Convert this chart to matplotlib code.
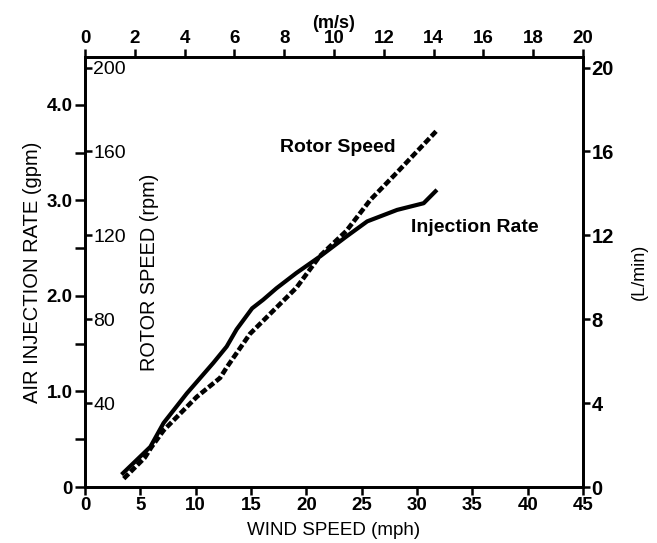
import matplotlib.pyplot as plt
import numpy as np

plt.rcParams['font.family'] = ['Liberation Sans', 'DejaVu Sans']

# Rotor speed (rpm) vs wind speed (mph) - dashed
rotor_mph = [3.5, 5.4, 6.0, 7.1, 8.6, 10.1, 12.2, 12.8, 14.9, 17.0, 19.1, 21.2, 23.6, 25.8, 28.2, 30.0, 31.8]
rotor_rpm = [4, 14, 19, 27, 35, 43, 52, 57, 73, 84, 95, 110, 122, 137, 150, 160, 170]

# Air injection rate (gpm) vs wind speed (mph) - solid
inj_mph = [3.3, 5.9, 7.1, 9.2, 11.6, 12.8, 13.7, 15.1, 16.1, 17.3, 19.1, 21.2, 23.6, 25.5, 28.2, 30.6, 31.8]
inj_gpm = [0.13, 0.42, 0.67, 0.98, 1.30, 1.47, 1.65, 1.87, 1.96, 2.08, 2.24, 2.41, 2.62, 2.78, 2.90, 2.97, 3.11]

mph_ticks = list(range(0, 50, 5))
ms_ticks = list(range(0, 22, 2))
gpm_ticks = [0, 1.0, 2.0, 3.0, 4.0]
gpm_labels = ['0', '1.0', '2.0', '3.0', '4.0']
rpm_ticks = [40, 80, 120, 160, 200]
lmin_ticks = [0, 4, 8, 12, 16, 20]

lw_spine = 1.8

fig = plt.figure(figsize=(6.57, 5.43), dpi=100)
ax = fig.add_axes([0.1294, 0.1031, 0.7580, 0.7919])

ax.plot(inj_mph, inj_gpm, color='black', lw=3.0, solid_capstyle='butt')
ax.set_xlim(0, 45)
ax.set_ylim(0, 4.5)
ax.set_xticks(mph_ticks)
ax.set_yticks(gpm_ticks)
ax.set_yticklabels(gpm_labels)
ax.set_yticks(np.arange(0.5, 4.5, 1.0), minor=True)
ax.tick_params(axis='both', which='both', direction='out', width=lw_spine,
               top=False, right=False)
ax.tick_params(axis='x', length=6, pad=1, labelsize=13.5)
ax.tick_params(axis='y', which='both', length=7, pad=2, labelsize=13.5)
for lab in ax.get_xticklabels() + ax.get_yticklabels():
    lab.set_fontweight('bold')
ax.set_xlabel('WIND SPEED (mph)', fontsize=13.5, labelpad=6)
ax.set_ylabel('AIR INJECTION RATE (gpm)', fontsize=14.5, labelpad=3)
for sp in ax.spines.values():
    sp.set_linewidth(lw_spine)

ax.text(22.8, 3.55, 'Rotor Speed', fontsize=14, fontweight='bold', ha='center', va='center')
ax.text(35.2, 2.72, 'Injection Rate', fontsize=14, fontweight='bold', ha='center', va='center')

# Rotor speed axis, drawn inside the left spine
ax_rpm = ax.twinx()
ax_rpm.plot(rotor_mph, rotor_rpm, color='black', lw=3.3, linestyle=(0, (1.5, 0.6)))
ax_rpm.set_ylim(0, 205)
ax_rpm.spines['right'].set_position(('axes', 0))
ax_rpm.set_yticks(rpm_ticks)
ax_rpm.tick_params(axis='y', direction='out', length=5, width=lw_spine, pad=1, labelsize=14)
ax_rpm.set_ylabel('ROTOR SPEED (rpm)', fontsize=14.3, labelpad=10)
for sp in ax_rpm.spines.values():
    sp.set_visible(False)

# L/min axis on the right
ax_l = ax.twinx()
ax_l.set_ylim(0, 20.5)
ax_l.set_yticks(lmin_ticks)
ax_l.tick_params(axis='y', direction='out', length=5, width=lw_spine, pad=1, labelsize=14.5)
for lab in ax_l.get_yticklabels():
    lab.set_fontweight('bold')
ax_l.set_ylabel('(L/min)', fontsize=13, labelpad=12)
for sp in ax_l.spines.values():
    sp.set_linewidth(lw_spine)

# m/s axis on top
ax_t = ax.twiny()
ax_t.set_xlim(0, 20)
ax_t.set_xticks(ms_ticks)
ax_t.tick_params(axis='x', direction='out', length=6, width=lw_spine, pad=1, labelsize=13.5)
for lab in ax_t.get_xticklabels():
    lab.set_fontweight('bold')
ax_t.set_xlabel('(m/s)', fontsize=13, fontweight='bold', labelpad=2)
for sp in ax_t.spines.values():
    sp.set_linewidth(lw_spine)

fig.savefig('out.png', dpi=100)
